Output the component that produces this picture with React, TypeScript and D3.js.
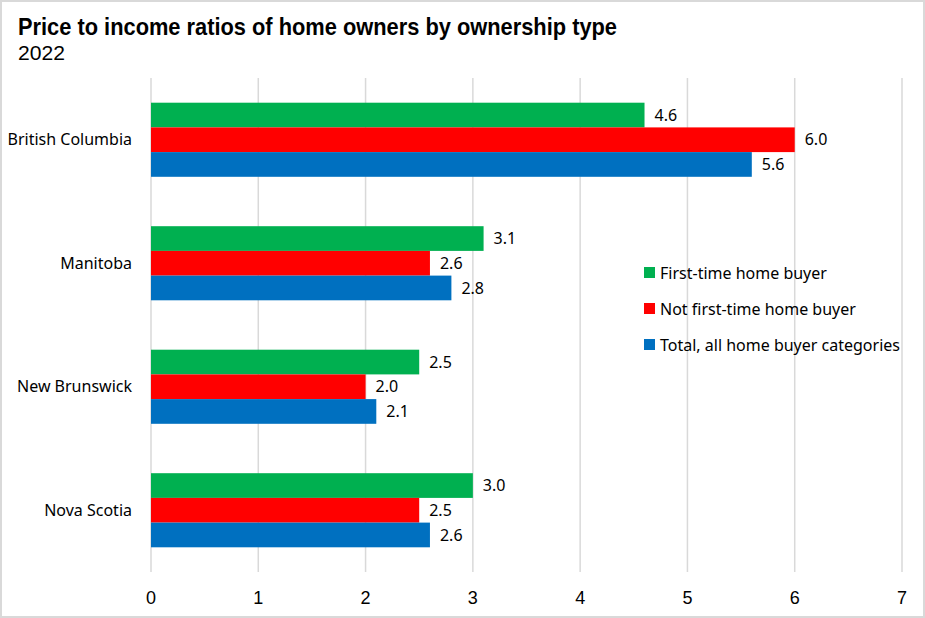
import { scaleBand, scaleLinear } from "d3";

const provinces = ["British Columbia", "Manitoba", "New Brunswick", "Nova Scotia"];
const seriesNames = [
  "First-time home buyer",
  "Not first-time home buyer",
  "Total, all home buyer categories",
];
const firstTime = [4.6, 3.1, 2.5, 3.0];
const notFirstTime = [6.0, 2.6, 2.0, 2.5];
const total = [5.6, 2.8, 2.1, 2.6];
const xTicks = [0, 1, 2, 3, 4, 5, 6, 7];
const colors = ["#00b050", "#ff0000", "#0070c0"];

const W = 925;
const H = 618;
const narrow = "'Liberation Sans Narrow', 'Arial Narrow', 'Liberation Sans', sans-serif";
const body = "'Noto Sans', 'DejaVu Sans', sans-serif";

export default function App() {
  const series = [firstTime, notFirstTime, total];
  const x = scaleLinear().domain([0, 7]).range([151, 902]);
  const y = scaleBand().domain(provinces).range([78, 572]).paddingInner(0.4).paddingOuter(0.2);
  const sub = scaleBand<number>().domain([0, 1, 2]).range([0, y.bandwidth()]);

  return (
    <div style={{ position: "fixed", left: 0, top: 0 }}>
      <svg width={W} height={H}>
        <rect x={1} y={1} width={W - 2} height={H - 2} fill="#fff" stroke="#d9d9d9" strokeWidth={2} />
        <text
          x={18}
          y={35}
          fontFamily={narrow}
          fontWeight="bold"
          fontSize={24}
          textLength={599}
          lengthAdjust="spacingAndGlyphs"
          fill="#000"
        >
          Price to income ratios of home owners by ownership type
        </text>
        <text x={18} y={60} fontFamily={narrow} fontSize={21} textLength={47} lengthAdjust="spacingAndGlyphs" fill="#000">
          2022
        </text>
        {xTicks.map((t) => (
          <g key={t}>
            <line x1={x(t)} x2={x(t)} y1={78} y2={572} stroke="#d9d9d9" strokeWidth={1.5} />
            <text x={x(t)} y={604} textAnchor="middle" fontFamily={narrow} fontSize={18} fill="#000">
              {t}
            </text>
          </g>
        ))}
        {provinces.map((p, i) => (
          <g key={p}>
            <text
              x={132}
              y={(y(p) ?? 0) + y.bandwidth() / 2}
              dy="0.35em"
              textAnchor="end"
              fontFamily={body}
              fontSize={16}
              fill="#000"
            >
              {p}
            </text>
            {series.map((s, j) => (
              <g key={j}>
                <rect
                  x={x(0)}
                  y={(y(p) ?? 0) + (sub(j) ?? 0)}
                  width={x(s[i]) - x(0)}
                  height={sub.bandwidth()}
                  fill={colors[j]}
                />
                <text
                  x={x(s[i]) + 10}
                  y={(y(p) ?? 0) + (sub(j) ?? 0) + sub.bandwidth() / 2}
                  dy="0.35em"
                  fontFamily={body}
                  fontSize={16}
                  fill="#000"
                >
                  {s[i].toFixed(1)}
                </text>
              </g>
            ))}
          </g>
        ))}
        {seriesNames.map((n, j) => (
          <g key={n} transform={`translate(644, ${273 + j * 36})`}>
            <rect x={0} y={-6} width={11} height={11} fill={colors[j]} />
            <text x={16} y={0} dy="0.35em" fontFamily={body} fontSize={16} fill="#000">
              {n}
            </text>
          </g>
        ))}
      </svg>
    </div>
  );
}
